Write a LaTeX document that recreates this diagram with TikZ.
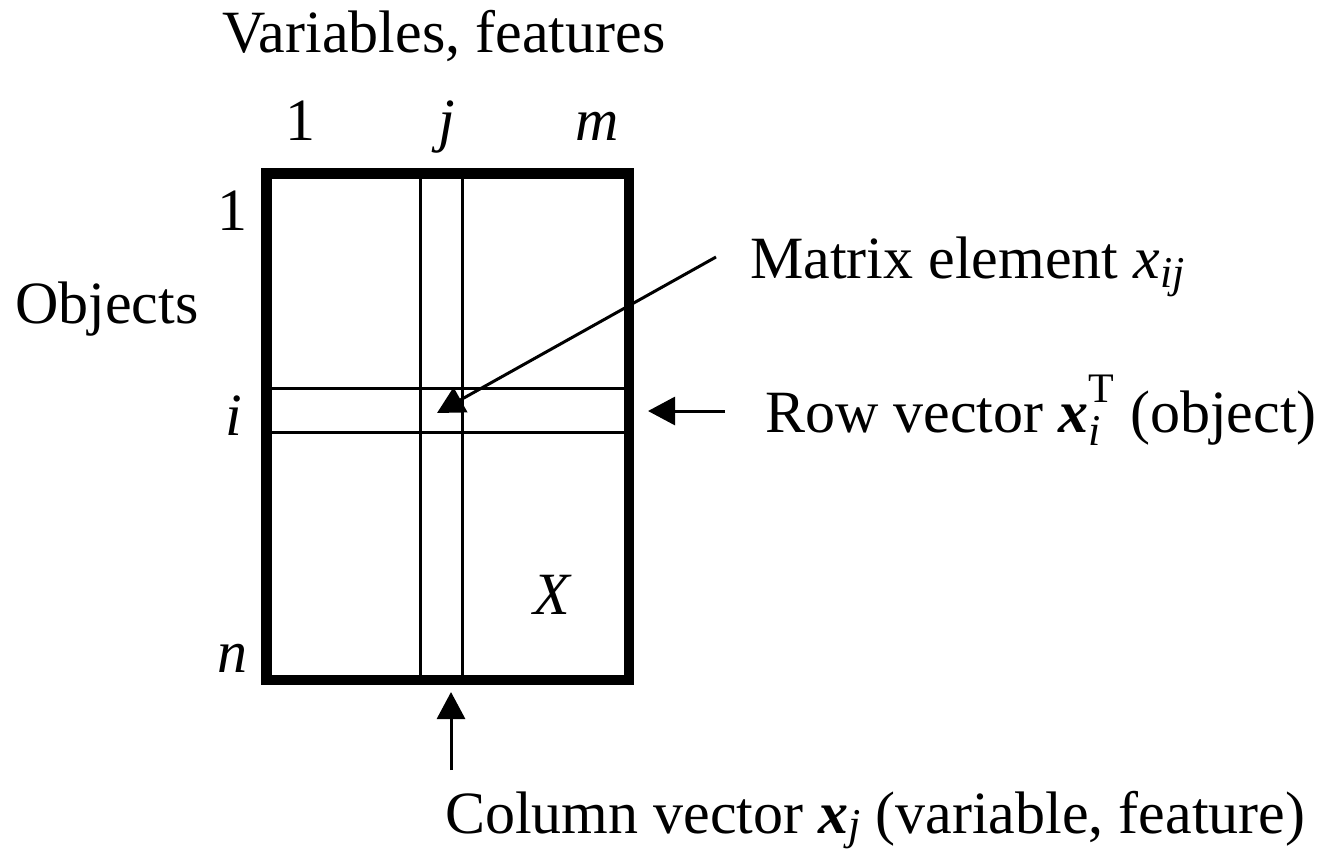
\documentclass[tikz,border=0pt]{standalone}
\usepackage{fontspec}
\setmainfont{Liberation Serif}
\usetikzlibrary{arrows.meta}
\newcommand{\subsc}[2][-0.15em]{\raisebox{#1}{\fontsize{44}{50}\selectfont\textit{#2}}}
\newcommand{\bx}{\textbf{\textit{x}}}
\begin{document}
\begin{tikzpicture}[x=1pt,y=-1pt,
  lbl/.style={inner sep=0pt,font=\fontsize{60}{70}\selectfont},
  thick frame/.style={line width=10.5pt},
  thin rule/.style={line width=3pt},
  pointer/.style={line width=3pt,-{Triangle[length=27pt,width=28pt]}}]
\useasboundingbox (0,0) rectangle (1329,855);
% frame
\draw[thick frame] (266.5,173.5) rectangle (629,680);
\draw[thin rule] (420,173.5) -- (420,680);
\draw[thin rule] (462,173.5) -- (462,680);
\draw[thin rule] (266.5,388) -- (629,388);
\draw[thin rule] (266.5,432) -- (629,432);
% labels
\node[lbl,anchor=base west] (vf) at (222,52) {Variables, features};
\node[lbl,anchor=base] (c1) at (300,140) {1};
\node[lbl,anchor=base] (cj) at (447,140) {\textit{j}};
\node[lbl,anchor=base] (cm) at (597,140) {\textit{m}};
\node[lbl,anchor=base] (r1) at (232,230) {1};
\node[lbl,anchor=base west] (obj) at (15,323) {Objects};
\node[lbl,anchor=base] (ri) at (234,435) {\textit{i}};
\node[lbl,anchor=base] (rn) at (232,672) {\textit{n}};
\node[lbl,anchor=base] (X) at (553,614) {\textit{X}};
\node[lbl,anchor=base west] (me) at (750,278) {Matrix element \textit{x}\subsc{ij}};
\node[lbl,anchor=base west] (rv) at (765,432) {Row vector \bx\rlap{\subsc[-0.22em]{i}}\raisebox{0.5em}{\fontsize{42}{44}\selectfont T}\hspace{0.02em} (object)};
\node[lbl,anchor=base west] (cv) at (445,833) {Column vector \bx\subsc[-0.1em]{j} (variable, feature)};
% arrows
\coordinate (meT) at (716,257);
\coordinate (meH) at (437,413);
\coordinate (rvT) at (725,411);
\coordinate (rvH) at (648,411);
\coordinate (cvT) at (451,770);
\coordinate (cvH) at (451,692);
\draw[pointer] (meT) -- (meH);
\draw[pointer] (rvT) -- (rvH);
\draw[pointer] (cvT) -- (cvH);
\end{tikzpicture}
\end{document}
